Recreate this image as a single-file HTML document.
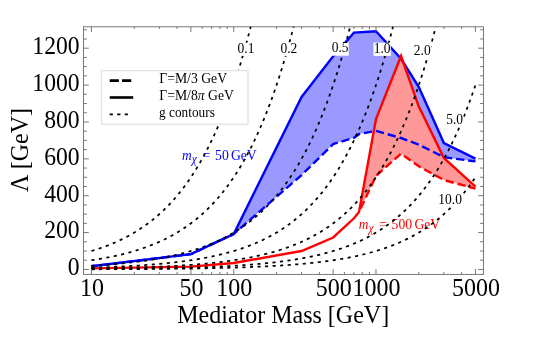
<!DOCTYPE html>
<html><head><meta charset="utf-8"><title>chart</title>
<style>
html,body{margin:0;padding:0;background:#fff;}
body{width:540px;height:337px;overflow:hidden;}
svg{display:block;will-change:transform;font-family:"Liberation Serif",serif;}
text{fill:#000;}
g text{fill:inherit;}
</style></head><body>
<svg width="540" height="337" viewBox="0 0 540 337">
<rect width="540" height="337" fill="#fff"/>
<polygon points="91.45,266.30 190.89,254.20 233.72,234.00 301.60,97.00 333.16,56.30 353.95,32.60 375.99,31.20 401.04,58.80 418.82,87.00 443.87,143.00 475.43,158.60 475.43,161.40 443.87,157.20 418.82,144.60 401.04,138.00 375.99,130.90 359.30,134.00 353.95,137.80 333.16,144.10 301.60,175.10 233.72,234.00 190.89,254.20 91.45,266.30" fill="#9999ff"/>
<polygon points="359.00,212.10 375.99,119.00 401.04,56.00 418.50,105.80 443.87,157.90 475.43,186.60 475.43,188.70 443.87,180.00 418.82,166.30 401.04,153.60 375.99,175.80 359.00,212.10" fill="#ff9999"/>
<polyline points="91.45,266.30 190.89,254.20 233.72,234.00 301.60,175.10 333.16,144.10 353.95,137.80 359.30,134.00 375.99,130.90 401.04,138.00 418.82,144.60 443.87,157.20 475.43,161.40" fill="none" stroke="#0000ff" stroke-width="2.4" stroke-dasharray="8.3 3.9" stroke-dashoffset="2.5" stroke-linejoin="miter"/>
<polyline points="91.45,266.30 190.89,254.20 233.72,234.00 301.60,97.00 333.16,56.30 353.95,32.60 375.99,31.20 401.04,58.80 418.82,87.00 443.87,143.00 475.43,158.60" fill="none" stroke="#0000ff" stroke-width="2.4" stroke-linejoin="miter"/>
<polyline points="359.00,212.10 375.99,175.80 401.04,153.60 418.82,166.30 443.87,180.00 475.43,188.70" fill="none" stroke="#ff0000" stroke-width="2.4" stroke-dasharray="8.3 3.9" stroke-dashoffset="8.3" stroke-linejoin="miter"/>
<polyline points="91.45,268.40 190.89,266.60 233.72,263.00 301.60,251.00 333.16,237.50 353.95,218.30 359.00,212.10 375.99,119.00 401.04,56.00 418.50,105.80 443.87,157.90 475.43,186.60" fill="none" stroke="#ff0000" stroke-width="2.4" stroke-linejoin="miter"/>
<g fill="#0000ff"><text transform="translate(182.10,159.70) scale(1.000,1.050)" font-size="13.4" text-anchor="start" font-style="italic">m</text><text transform="translate(191.70,162.70) scale(1.000,1.100)" font-size="11.5" text-anchor="start" font-style="italic">χ</text><text transform="translate(202.80,159.70) scale(1.000,1.130)" font-size="13.7" text-anchor="start">=</text><text transform="translate(215.10,159.70) scale(1.000,1.130)" font-size="13.7" text-anchor="start">50</text><text transform="translate(230.90,159.70) scale(1.000,1.130)" font-size="13.7" text-anchor="start">GeV</text></g>
<g fill="#ff0000"><text transform="translate(358.70,228.60) scale(1.000,1.050)" font-size="13.4" text-anchor="start" font-style="italic">m</text><text transform="translate(368.40,231.60) scale(1.000,1.100)" font-size="11.5" text-anchor="start" font-style="italic">χ</text><text transform="translate(379.20,228.60) scale(1.000,1.130)" font-size="13.7" text-anchor="start">=</text><text transform="translate(391.60,228.60) scale(1.000,1.130)" font-size="13.7" text-anchor="start">500</text><text transform="translate(414.40,228.60) scale(1.000,1.130)" font-size="13.7" text-anchor="start">GeV</text></g>
<polyline points="91.45,251.02 92.41,250.73 93.37,250.44 94.33,250.14 95.29,249.84 96.25,249.53 97.21,249.22 98.17,248.90 99.13,248.58 100.09,248.25 101.05,247.92 102.01,247.59 102.97,247.24 103.93,246.90 104.89,246.54 105.85,246.18 106.81,245.82 107.77,245.45 108.73,245.07 109.69,244.69 110.65,244.30 111.61,243.91 112.57,243.51 113.53,243.10 114.49,242.69 115.45,242.27 116.41,241.84 117.37,241.41 118.33,240.97 119.29,240.53 120.25,240.07 121.21,239.61 122.17,239.15 123.13,238.67 124.09,238.19 125.05,237.70 126.01,237.20 126.97,236.70 127.93,236.19 128.89,235.66 129.85,235.13 130.81,234.60 131.77,234.05 132.73,233.50 133.69,232.93 134.65,232.36 135.61,231.78 136.57,231.19 137.53,230.59 138.49,229.98 139.45,229.37 140.41,228.74 141.37,228.10 142.33,227.45 143.29,226.79 144.25,226.13 145.21,225.45 146.17,224.76 147.13,224.06 148.09,223.35 149.05,222.63 150.01,221.89 150.97,221.15 151.93,220.39 152.89,219.62 153.85,218.84 154.81,218.05 155.77,217.25 156.73,216.43 157.69,215.60 158.65,214.75 159.61,213.90 160.57,213.03 161.53,212.14 162.49,211.25 163.45,210.34 164.41,209.41 165.37,208.47 166.33,207.51 167.29,206.54 168.25,205.56 169.21,204.56 170.17,203.54 171.13,202.51 172.09,201.46 173.05,200.40 174.01,199.32 174.97,198.22 175.93,197.10 176.89,195.97 177.85,194.82 178.81,193.65 179.77,192.46 180.73,191.26 181.69,190.03 182.65,188.79 183.61,187.53 184.57,186.24 185.53,184.94 186.49,183.62 187.45,182.27 188.41,180.91 189.37,179.52 190.33,178.11 191.29,176.68 192.25,175.23 193.21,173.75 194.17,172.26 195.13,170.73 196.09,169.19 197.05,167.62 198.01,166.02 198.97,164.40 199.93,162.76 200.89,161.09 201.84,159.39 202.80,157.67 203.76,155.92 204.72,154.14 205.68,152.33 206.64,150.50 207.60,148.64 208.56,146.74 209.52,144.82 210.48,142.87 211.44,140.89 212.40,138.88 213.36,136.83 214.32,134.75 215.28,132.65 216.24,130.50 217.20,128.33 218.16,126.12 219.12,123.87 220.08,121.59 221.04,119.28 222.00,116.93 222.96,114.54 223.92,112.11 224.88,109.65 225.84,107.15 226.80,104.61 227.76,102.02 228.72,99.40 229.68,96.74 230.64,94.04 231.60,91.29 232.56,88.50 233.52,85.67 234.48,82.79 235.44,79.86 236.40,76.90 237.36,73.88 238.32,70.82 239.28,67.71 240.24,64.55 241.20,61.34 242.16,58.08 243.12,54.77 244.08,51.41 245.04,48.00 246.00,44.53 246.96,41.01 247.92,37.43 248.88,33.80 249.84,30.11 250.78,26.45" fill="none" stroke="#000" stroke-width="1.75" stroke-dasharray="3.1 4.45"/>
<polyline points="91.45,260.24 92.41,260.10 93.37,259.95 94.33,259.80 95.29,259.65 96.25,259.50 97.21,259.34 98.17,259.18 99.13,259.02 100.09,258.86 101.05,258.69 102.01,258.52 102.97,258.35 103.93,258.18 104.89,258.00 105.85,257.82 106.81,257.64 107.77,257.45 108.73,257.27 109.69,257.08 110.65,256.88 111.61,256.68 112.57,256.48 113.53,256.28 114.49,256.07 115.45,255.87 116.41,255.65 117.37,255.44 118.33,255.22 119.29,254.99 120.25,254.77 121.21,254.54 122.17,254.30 123.13,254.07 124.09,253.83 125.05,253.58 126.01,253.33 126.97,253.08 127.93,252.82 128.89,252.56 129.85,252.30 130.81,252.03 131.77,251.76 132.73,251.48 133.69,251.20 134.65,250.91 135.61,250.62 136.57,250.33 137.53,250.03 138.49,249.72 139.45,249.41 140.41,249.10 141.37,248.78 142.33,248.46 143.29,248.13 144.25,247.79 145.21,247.45 146.17,247.11 147.13,246.76 148.09,246.40 149.05,246.04 150.01,245.68 150.97,245.30 151.93,244.93 152.89,244.54 153.85,244.15 154.81,243.76 155.77,243.35 156.73,242.94 157.69,242.53 158.65,242.11 159.61,241.68 160.57,241.24 161.53,240.80 162.49,240.35 163.45,239.90 164.41,239.43 165.37,238.96 166.33,238.49 167.29,238.00 168.25,237.51 169.21,237.01 170.17,236.50 171.13,235.99 172.09,235.46 173.05,234.93 174.01,234.39 174.97,233.84 175.93,233.28 176.89,232.71 177.85,232.14 178.81,231.55 179.77,230.96 180.73,230.36 181.69,229.75 182.65,229.12 183.61,228.49 184.57,227.85 185.53,227.20 186.49,226.54 187.45,225.87 188.41,225.18 189.37,224.49 190.33,223.79 191.29,223.07 192.25,222.34 193.21,221.61 194.17,220.86 195.13,220.10 196.09,219.32 197.05,218.54 198.01,217.74 198.97,216.93 199.93,216.11 200.89,215.27 201.84,214.43 202.80,213.56 203.76,212.69 204.72,211.80 205.68,210.90 206.64,209.98 207.60,209.05 208.56,208.10 209.52,207.14 210.48,206.17 211.44,205.17 212.40,204.17 213.36,203.15 214.32,202.11 215.28,201.05 216.24,199.98 217.20,198.89 218.16,197.79 219.12,196.67 220.08,195.53 221.04,194.37 222.00,193.19 222.96,192.00 223.92,190.79 224.88,189.55 225.84,188.30 226.80,187.03 227.76,185.74 228.72,184.43 229.68,183.10 230.64,181.75 231.60,180.37 232.56,178.98 233.52,177.56 234.48,176.12 235.44,174.66 236.40,173.18 237.36,171.67 238.32,170.14 239.28,168.58 240.24,167.00 241.20,165.40 242.16,163.77 243.12,162.12 244.08,160.44 245.04,158.73 246.00,156.99 246.96,155.23 247.92,153.45 248.88,151.63 249.84,149.78 250.80,147.91 251.76,146.01 252.72,144.07 253.68,142.11 254.64,140.12 255.60,138.09 256.56,136.03 257.52,133.94 258.48,131.82 259.44,129.67 260.40,127.48 261.36,125.26 262.32,123.00 263.28,120.70 264.24,118.38 265.20,116.01 266.16,113.61 267.12,111.17 268.08,108.69 269.04,106.17 270.00,103.61 270.96,101.02 271.92,98.38 272.88,95.70 273.84,92.98 274.80,90.22 275.76,87.41 276.72,84.56 277.68,81.66 278.64,78.72 279.60,75.74 280.56,72.70 281.52,69.62 282.48,66.49 283.44,63.32 284.40,60.09 285.36,56.81 286.32,53.48 287.28,50.10 288.24,46.66 289.20,43.18 290.16,39.63 291.12,36.03 292.08,32.38 293.04,28.67 293.61,26.45" fill="none" stroke="#000" stroke-width="1.75" stroke-dasharray="3.1 4.45"/>
<polyline points="91.45,265.77 92.41,265.71 93.37,265.66 94.33,265.60 95.29,265.54 96.25,265.47 97.21,265.41 98.17,265.35 99.13,265.28 100.09,265.22 101.05,265.15 102.01,265.09 102.97,265.02 103.93,264.95 104.89,264.88 105.85,264.80 106.81,264.73 107.77,264.66 108.73,264.58 109.69,264.51 110.65,264.43 111.61,264.35 112.57,264.27 113.53,264.19 114.49,264.11 115.45,264.02 116.41,263.94 117.37,263.85 118.33,263.76 119.29,263.67 120.25,263.58 121.21,263.49 122.17,263.40 123.13,263.30 124.09,263.21 125.05,263.11 126.01,263.01 126.97,262.91 127.93,262.81 128.89,262.70 129.85,262.59 130.81,262.49 131.77,262.38 132.73,262.27 133.69,262.15 134.65,262.04 135.61,261.92 136.57,261.81 137.53,261.69 138.49,261.56 139.45,261.44 140.41,261.32 141.37,261.19 142.33,261.06 143.29,260.93 144.25,260.79 145.21,260.66 146.17,260.52 147.13,260.38 148.09,260.24 149.05,260.09 150.01,259.95 150.97,259.80 151.93,259.65 152.89,259.49 153.85,259.34 154.81,259.18 155.77,259.02 156.73,258.85 157.69,258.69 158.65,258.52 159.61,258.35 160.57,258.17 161.53,258.00 162.49,257.82 163.45,257.64 164.41,257.45 165.37,257.26 166.33,257.07 167.29,256.88 168.25,256.68 169.21,256.48 170.17,256.28 171.13,256.07 172.09,255.86 173.05,255.65 174.01,255.43 174.97,255.21 175.93,254.99 176.89,254.76 177.85,254.53 178.81,254.30 179.77,254.06 180.73,253.82 181.69,253.57 182.65,253.33 183.61,253.07 184.57,252.82 185.53,252.56 186.49,252.29 187.45,252.02 188.41,251.75 189.37,251.47 190.33,251.19 191.29,250.90 192.25,250.61 193.21,250.32 194.17,250.02 195.13,249.71 196.09,249.41 197.05,249.09 198.01,248.77 198.97,248.45 199.93,248.12 200.89,247.79 201.84,247.45 202.80,247.10 203.76,246.75 204.72,246.40 205.68,246.03 206.64,245.67 207.60,245.30 208.56,244.92 209.52,244.53 210.48,244.14 211.44,243.75 212.40,243.34 213.36,242.93 214.32,242.52 215.28,242.10 216.24,241.67 217.20,241.23 218.16,240.79 219.12,240.34 220.08,239.89 221.04,239.42 222.00,238.95 222.96,238.48 223.92,237.99 224.88,237.50 225.84,237.00 226.80,236.49 227.76,235.97 228.72,235.45 229.68,234.92 230.64,234.38 231.60,233.83 232.56,233.27 233.52,232.70 234.48,232.13 235.44,231.54 236.40,230.95 237.36,230.34 238.32,229.73 239.28,229.11 240.24,228.48 241.20,227.84 242.16,227.18 243.12,226.52 244.08,225.85 245.04,225.17 246.00,224.47 246.96,223.77 247.92,223.05 248.88,222.33 249.84,221.59 250.80,220.84 251.76,220.08 252.72,219.31 253.68,218.52 254.64,217.72 255.60,216.91 256.56,216.09 257.52,215.25 258.48,214.41 259.44,213.54 260.40,212.67 261.36,211.78 262.32,210.88 263.28,209.96 264.24,209.03 265.20,208.08 266.16,207.12 267.12,206.14 268.08,205.15 269.04,204.14 270.00,203.12 270.96,202.08 271.92,201.03 272.88,199.96 273.84,198.87 274.80,197.76 275.76,196.64 276.72,195.50 277.68,194.34 278.64,193.17 279.60,191.97 280.56,190.76 281.52,189.53 282.48,188.27 283.44,187.00 284.40,185.71 285.36,184.40 286.32,183.07 287.28,181.72 288.24,180.34 289.20,178.95 290.16,177.53 291.12,176.09 292.08,174.63 293.04,173.14 294.00,171.63 294.96,170.10 295.92,168.55 296.88,166.97 297.84,165.36 298.80,163.73 299.76,162.08 300.72,160.40 301.68,158.69 302.64,156.95 303.60,155.19 304.56,153.40 305.52,151.59 306.48,149.74 307.44,147.87 308.40,145.96 309.36,144.03 310.32,142.06 311.28,140.07 312.24,138.04 313.20,135.99 314.16,133.90 315.12,131.77 316.08,129.62 317.04,127.43 318.00,125.20 318.96,122.94 319.92,120.65 320.88,118.32 321.84,115.95 322.80,113.55 323.76,111.11 324.72,108.63 325.68,106.11 326.64,103.55 327.60,100.96 328.56,98.32 329.52,95.64 330.48,92.92 331.44,90.15 332.40,87.34 333.36,84.49 334.32,81.60 335.28,78.65 336.24,75.67 337.20,72.63 338.16,69.55 339.12,66.42 340.08,63.24 341.04,60.01 342.00,56.73 342.96,53.40 343.92,50.02 344.88,46.58 345.84,43.09 346.80,39.55 347.76,35.95 348.72,32.29 349.68,28.58 350.22,26.45" fill="none" stroke="#000" stroke-width="1.75" stroke-dasharray="3.1 4.45"/>
<polyline points="91.45,267.62 92.41,267.59 93.37,267.56 94.33,267.53 95.29,267.50 96.25,267.47 97.21,267.44 98.17,267.40 99.13,267.37 100.09,267.34 101.05,267.31 102.01,267.27 102.97,267.24 103.93,267.20 104.89,267.17 105.85,267.13 106.81,267.10 107.77,267.06 108.73,267.02 109.69,266.98 110.65,266.94 111.61,266.90 112.57,266.86 113.53,266.82 114.49,266.78 115.45,266.74 116.41,266.70 117.37,266.66 118.33,266.61 119.29,266.57 120.25,266.52 121.21,266.48 122.17,266.43 123.13,266.38 124.09,266.33 125.05,266.28 126.01,266.23 126.97,266.18 127.93,266.13 128.89,266.08 129.85,266.03 130.81,265.97 131.77,265.92 132.73,265.86 133.69,265.81 134.65,265.75 135.61,265.69 136.57,265.63 137.53,265.57 138.49,265.51 139.45,265.45 140.41,265.39 141.37,265.32 142.33,265.26 143.29,265.19 144.25,265.13 145.21,265.06 146.17,264.99 147.13,264.92 148.09,264.85 149.05,264.78 150.01,264.70 150.97,264.63 151.93,264.55 152.89,264.48 153.85,264.40 154.81,264.32 155.77,264.24 156.73,264.16 157.69,264.07 158.65,263.99 159.61,263.90 160.57,263.82 161.53,263.73 162.49,263.64 163.45,263.55 164.41,263.45 165.37,263.36 166.33,263.27 167.29,263.17 168.25,263.07 169.21,262.97 170.17,262.87 171.13,262.77 172.09,262.66 173.05,262.55 174.01,262.45 174.97,262.34 175.93,262.22 176.89,262.11 177.85,262.00 178.81,261.88 179.77,261.76 180.73,261.64 181.69,261.52 182.65,261.39 183.61,261.27 184.57,261.14 185.53,261.01 186.49,260.88 187.45,260.74 188.41,260.60 189.37,260.47 190.33,260.33 191.29,260.18 192.25,260.04 193.21,259.89 194.17,259.74 195.13,259.59 196.09,259.43 197.05,259.28 198.01,259.12 198.97,258.95 199.93,258.79 200.89,258.62 201.84,258.45 202.80,258.28 203.76,258.11 204.72,257.93 205.68,257.75 206.64,257.56 207.60,257.38 208.56,257.19 209.52,257.00 210.48,256.80 211.44,256.60 212.40,256.40 213.36,256.20 214.32,255.99 215.28,255.78 216.24,255.56 217.20,255.35 218.16,255.13 219.12,254.90 220.08,254.67 221.04,254.44 222.00,254.21 222.96,253.97 223.92,253.73 224.88,253.48 225.84,253.23 226.80,252.97 227.76,252.72 228.72,252.45 229.68,252.19 230.64,251.92 231.60,251.64 232.56,251.36 233.52,251.08 234.48,250.79 235.44,250.50 236.40,250.20 237.36,249.90 238.32,249.60 239.28,249.28 240.24,248.97 241.20,248.65 242.16,248.32 243.12,247.99 244.08,247.66 245.04,247.31 246.00,246.97 246.96,246.61 247.92,246.26 248.88,245.89 249.84,245.52 250.80,245.15 251.76,244.77 252.72,244.38 253.68,243.99 254.64,243.59 255.60,243.19 256.56,242.77 257.52,242.36 258.48,241.93 259.44,241.50 260.40,241.06 261.36,240.62 262.32,240.17 263.28,239.71 264.24,239.24 265.20,238.77 266.16,238.29 267.12,237.80 268.08,237.31 269.04,236.80 270.00,236.29 270.96,235.77 271.92,235.24 272.88,234.71 273.84,234.16 274.80,233.61 275.76,233.05 276.72,232.48 277.68,231.90 278.64,231.31 279.60,230.72 280.56,230.11 281.52,229.49 282.48,228.87 283.44,228.23 284.40,227.59 285.36,226.93 286.32,226.26 287.28,225.59 288.24,224.90 289.20,224.20 290.16,223.49 291.12,222.77 292.08,222.04 293.04,221.30 294.00,220.55 294.96,219.78 295.92,219.00 296.88,218.21 297.84,217.41 298.80,216.60 299.76,215.77 300.72,214.93 301.68,214.07 302.64,213.21 303.60,212.33 304.56,211.43 305.52,210.52 306.48,209.60 307.44,208.66 308.40,207.71 309.36,206.74 310.32,205.76 311.28,204.76 312.24,203.75 313.20,202.72 314.16,201.68 315.12,200.62 316.08,199.54 317.04,198.44 318.00,197.33 318.96,196.20 319.92,195.06 320.88,193.89 321.84,192.71 322.80,191.51 323.76,190.28 324.72,189.04 325.68,187.79 326.64,186.51 327.60,185.21 328.56,183.89 329.52,182.55 330.48,181.19 331.44,179.81 332.40,178.40 333.36,176.98 334.32,175.53 335.28,174.06 336.24,172.56 337.20,171.05 338.16,169.51 339.12,167.94 340.08,166.35 341.04,164.74 342.00,163.10 342.96,161.43 343.92,159.74 344.88,158.02 345.84,156.28 346.80,154.50 347.76,152.70 348.72,150.88 349.68,149.02 350.64,147.13 351.60,145.22 352.56,143.27 353.52,141.30 354.48,139.29 355.44,137.25 356.40,135.18 357.36,133.08 358.32,130.94 359.28,128.78 360.24,126.57 361.20,124.34 362.16,122.06 363.12,119.76 364.08,117.41 365.04,115.03 366.00,112.61 366.96,110.16 367.92,107.66 368.88,105.13 369.84,102.56 370.80,99.94 371.76,97.29 372.72,94.59 373.68,91.85 374.64,89.07 375.60,86.25 376.56,83.38 377.52,80.47 378.48,77.51 379.44,74.50 380.40,71.45 381.36,68.35 382.32,65.20 383.28,62.00 384.24,58.75 385.20,55.45 386.16,52.10 387.12,48.70 388.08,45.24 389.04,41.73 390.00,38.17 390.96,34.55 391.92,30.87 392.88,27.13 393.05,26.45" fill="none" stroke="#000" stroke-width="1.75" stroke-dasharray="3.1 4.45"/>
<polyline points="91.45,268.54 92.41,268.52 93.37,268.51 94.33,268.49 95.29,268.48 96.25,268.46 97.21,268.45 98.17,268.43 99.13,268.42 100.09,268.40 101.05,268.38 102.01,268.37 102.97,268.35 103.93,268.33 104.89,268.31 105.85,268.30 106.81,268.28 107.77,268.26 108.73,268.24 109.69,268.22 110.65,268.20 111.61,268.18 112.57,268.16 113.53,268.14 114.49,268.12 115.45,268.10 116.41,268.08 117.37,268.06 118.33,268.04 119.29,268.01 120.25,267.99 121.21,267.97 122.17,267.94 123.13,267.92 124.09,267.90 125.05,267.87 126.01,267.85 126.97,267.82 127.93,267.80 128.89,267.77 129.85,267.74 130.81,267.72 131.77,267.69 132.73,267.66 133.69,267.63 134.65,267.61 135.61,267.58 136.57,267.55 137.53,267.52 138.49,267.49 139.45,267.46 140.41,267.42 141.37,267.39 142.33,267.36 143.29,267.33 144.25,267.29 145.21,267.26 146.17,267.22 147.13,267.19 148.09,267.15 149.05,267.12 150.01,267.08 150.97,267.04 151.93,267.01 152.89,266.97 153.85,266.93 154.81,266.89 155.77,266.85 156.73,266.81 157.69,266.77 158.65,266.72 159.61,266.68 160.57,266.64 161.53,266.59 162.49,266.55 163.45,266.50 164.41,266.46 165.37,266.41 166.33,266.36 167.29,266.31 168.25,266.26 169.21,266.21 170.17,266.16 171.13,266.11 172.09,266.06 173.05,266.01 174.01,265.95 174.97,265.90 175.93,265.84 176.89,265.79 177.85,265.73 178.81,265.67 179.77,265.61 180.73,265.55 181.69,265.49 182.65,265.43 183.61,265.36 184.57,265.30 185.53,265.23 186.49,265.17 187.45,265.10 188.41,265.03 189.37,264.96 190.33,264.89 191.29,264.82 192.25,264.75 193.21,264.67 194.17,264.60 195.13,264.52 196.09,264.45 197.05,264.37 198.01,264.29 198.97,264.21 199.93,264.12 200.89,264.04 201.84,263.96 202.80,263.87 203.76,263.78 204.72,263.69 205.68,263.60 206.64,263.51 207.60,263.42 208.56,263.32 209.52,263.23 210.48,263.13 211.44,263.03 212.40,262.93 213.36,262.83 214.32,262.72 215.28,262.62 216.24,262.51 217.20,262.40 218.16,262.29 219.12,262.18 220.08,262.07 221.04,261.95 222.00,261.83 222.96,261.71 223.92,261.59 224.88,261.47 225.84,261.34 226.80,261.22 227.76,261.09 228.72,260.96 229.68,260.82 230.64,260.69 231.60,260.55 232.56,260.41 233.52,260.27 234.48,260.13 235.44,259.98 236.40,259.83 237.36,259.68 238.32,259.53 239.28,259.37 240.24,259.21 241.20,259.05 242.16,258.89 243.12,258.73 244.08,258.56 245.04,258.39 246.00,258.21 246.96,258.04 247.92,257.86 248.88,257.68 249.84,257.49 250.80,257.30 251.76,257.11 252.72,256.92 253.68,256.73 254.64,256.53 255.60,256.32 256.56,256.12 257.52,255.91 258.48,255.70 259.44,255.48 260.40,255.26 261.36,255.04 262.32,254.81 263.28,254.58 264.24,254.35 265.20,254.11 266.16,253.87 267.12,253.63 268.08,253.38 269.04,253.13 270.00,252.88 270.96,252.62 271.92,252.35 272.88,252.08 273.84,251.81 274.80,251.54 275.76,251.26 276.72,250.97 277.68,250.68 278.64,250.39 279.60,250.09 280.56,249.78 281.52,249.48 282.48,249.16 283.44,248.85 284.40,248.52 285.36,248.20 286.32,247.86 287.28,247.52 288.24,247.18 289.20,246.83 290.16,246.48 291.12,246.12 292.08,245.75 293.04,245.38 294.00,245.00 294.96,244.62 295.92,244.23 296.88,243.84 297.84,243.44 298.80,243.03 299.76,242.61 300.72,242.19 301.68,241.77 302.64,241.33 303.60,240.89 304.56,240.45 305.52,239.99 306.48,239.53 307.44,239.06 308.40,238.59 309.36,238.10 310.32,237.61 311.28,237.11 312.24,236.61 313.20,236.09 314.16,235.57 315.12,235.04 316.08,234.50 317.04,233.95 318.00,233.40 318.96,232.83 319.92,232.26 320.88,231.68 321.84,231.08 322.80,230.48 323.76,229.87 324.72,229.25 325.68,228.62 326.64,227.98 327.60,227.33 328.56,226.67 329.52,226.00 330.48,225.32 331.44,224.63 332.40,223.93 333.36,223.22 334.32,222.49 335.28,221.76 336.24,221.01 337.20,220.25 338.16,219.48 339.12,218.70 340.08,217.91 341.04,217.10 342.00,216.28 342.96,215.45 343.92,214.60 344.88,213.74 345.84,212.87 346.80,211.98 347.76,211.08 348.72,210.17 349.68,209.24 350.64,208.30 351.60,207.34 352.56,206.37 353.52,205.38 354.48,204.38 355.44,203.36 356.40,202.32 357.36,201.27 358.32,200.20 359.28,199.12 360.24,198.02 361.20,196.90 362.16,195.76 363.12,194.61 364.08,193.44 365.04,192.25 366.00,191.04 366.96,189.81 367.92,188.56 368.88,187.29 369.84,186.01 370.80,184.70 371.76,183.37 372.72,182.03 373.68,180.66 374.64,179.27 375.60,177.85 376.56,176.42 377.52,174.96 378.48,173.48 379.44,171.98 380.40,170.45 381.36,168.90 382.32,167.33 383.28,165.73 384.24,164.11 385.20,162.46 386.16,160.78 387.12,159.08 388.08,157.35 389.04,155.60 390.00,153.81 390.96,152.00 391.92,150.16 392.88,148.30 393.84,146.40 394.80,144.47 395.76,142.51 396.72,140.53 397.68,138.51 398.64,136.46 399.60,134.37 400.56,132.26 401.52,130.11 402.48,127.93 403.44,125.71 404.40,123.46 405.36,121.18 406.32,118.86 407.28,116.50 408.24,114.10 409.20,111.67 410.16,109.20 411.12,106.69 412.08,104.14 413.04,101.55 414.00,98.92 414.96,96.25 415.92,93.54 416.88,90.79 417.84,87.99 418.80,85.15 419.76,82.26 420.71,79.33 421.67,76.35 422.63,73.33 423.59,70.26 424.55,67.14 425.51,63.97 426.47,60.75 427.43,57.49 428.39,54.17 429.35,50.80 430.31,47.37 431.27,43.89 432.23,40.36 433.19,36.78 434.15,33.13 435.11,29.43 435.88,26.45" fill="none" stroke="#000" stroke-width="1.75" stroke-dasharray="3.1 4.45"/>
<polyline points="91.45,269.09 92.41,269.09 93.37,269.08 94.33,269.07 95.29,269.07 96.25,269.06 97.21,269.06 98.17,269.05 99.13,269.04 100.09,269.04 101.05,269.03 102.01,269.02 102.97,269.02 103.93,269.01 104.89,269.00 105.85,268.99 106.81,268.99 107.77,268.98 108.73,268.97 109.69,268.96 110.65,268.96 111.61,268.95 112.57,268.94 113.53,268.93 114.49,268.92 115.45,268.92 116.41,268.91 117.37,268.90 118.33,268.89 119.29,268.88 120.25,268.87 121.21,268.86 122.17,268.85 123.13,268.84 124.09,268.83 125.05,268.82 126.01,268.81 126.97,268.80 127.93,268.79 128.89,268.78 129.85,268.77 130.81,268.76 131.77,268.75 132.73,268.74 133.69,268.73 134.65,268.72 135.61,268.71 136.57,268.69 137.53,268.68 138.49,268.67 139.45,268.66 140.41,268.65 141.37,268.63 142.33,268.62 143.29,268.61 144.25,268.59 145.21,268.58 146.17,268.57 147.13,268.55 148.09,268.54 149.05,268.52 150.01,268.51 150.97,268.49 151.93,268.48 152.89,268.46 153.85,268.45 154.81,268.43 155.77,268.42 156.73,268.40 157.69,268.38 158.65,268.37 159.61,268.35 160.57,268.33 161.53,268.31 162.49,268.30 163.45,268.28 164.41,268.26 165.37,268.24 166.33,268.22 167.29,268.20 168.25,268.18 169.21,268.16 170.17,268.14 171.13,268.12 172.09,268.10 173.05,268.08 174.01,268.06 174.97,268.04 175.93,268.01 176.89,267.99 177.85,267.97 178.81,267.94 179.77,267.92 180.73,267.90 181.69,267.87 182.65,267.85 183.61,267.82 184.57,267.80 185.53,267.77 186.49,267.74 187.45,267.72 188.41,267.69 189.37,267.66 190.33,267.63 191.29,267.60 192.25,267.58 193.21,267.55 194.17,267.52 195.13,267.49 196.09,267.45 197.05,267.42 198.01,267.39 198.97,267.36 199.93,267.33 200.89,267.29 201.84,267.26 202.80,267.22 203.76,267.19 204.72,267.15 205.68,267.12 206.64,267.08 207.60,267.04 208.56,267.01 209.52,266.97 210.48,266.93 211.44,266.89 212.40,266.85 213.36,266.81 214.32,266.77 215.28,266.72 216.24,266.68 217.20,266.64 218.16,266.59 219.12,266.55 220.08,266.50 221.04,266.46 222.00,266.41 222.96,266.36 223.92,266.31 224.88,266.26 225.84,266.21 226.80,266.16 227.76,266.11 228.72,266.06 229.68,266.01 230.64,265.95 231.60,265.90 232.56,265.84 233.52,265.78 234.48,265.73 235.44,265.67 236.40,265.61 237.36,265.55 238.32,265.49 239.28,265.42 240.24,265.36 241.20,265.30 242.16,265.23 243.12,265.17 244.08,265.10 245.04,265.03 246.00,264.96 246.96,264.89 247.92,264.82 248.88,264.75 249.84,264.67 250.80,264.60 251.76,264.52 252.72,264.44 253.68,264.37 254.64,264.29 255.60,264.21 256.56,264.12 257.52,264.04 258.48,263.95 259.44,263.87 260.40,263.78 261.36,263.69 262.32,263.60 263.28,263.51 264.24,263.42 265.20,263.32 266.16,263.23 267.12,263.13 268.08,263.03 269.04,262.93 270.00,262.83 270.96,262.72 271.92,262.62 272.88,262.51 273.84,262.40 274.80,262.29 275.76,262.18 276.72,262.06 277.68,261.95 278.64,261.83 279.60,261.71 280.56,261.59 281.52,261.47 282.48,261.34 283.44,261.21 284.40,261.09 285.36,260.95 286.32,260.82 287.28,260.69 288.24,260.55 289.20,260.41 290.16,260.27 291.12,260.12 292.08,259.98 293.04,259.83 294.00,259.68 294.96,259.52 295.92,259.37 296.88,259.21 297.84,259.05 298.80,258.89 299.76,258.72 300.72,258.55 301.68,258.38 302.64,258.21 303.60,258.03 304.56,257.85 305.52,257.67 306.48,257.49 307.44,257.30 308.40,257.11 309.36,256.92 310.32,256.72 311.28,256.52 312.24,256.32 313.20,256.11 314.16,255.90 315.12,255.69 316.08,255.48 317.04,255.26 318.00,255.03 318.96,254.81 319.92,254.58 320.88,254.35 321.84,254.11 322.80,253.87 323.76,253.62 324.72,253.38 325.68,253.13 326.64,252.87 327.60,252.61 328.56,252.35 329.52,252.08 330.48,251.81 331.44,251.53 332.40,251.25 333.36,250.96 334.32,250.67 335.28,250.38 336.24,250.08 337.20,249.78 338.16,249.47 339.12,249.16 340.08,248.84 341.04,248.52 342.00,248.19 342.96,247.85 343.92,247.52 344.88,247.17 345.84,246.82 346.80,246.47 347.76,246.11 348.72,245.74 349.68,245.37 350.64,244.99 351.60,244.61 352.56,244.22 353.52,243.83 354.48,243.43 355.44,243.02 356.40,242.60 357.36,242.18 358.32,241.76 359.28,241.32 360.24,240.88 361.20,240.44 362.16,239.98 363.12,239.52 364.08,239.05 365.04,238.57 366.00,238.09 366.96,237.60 367.92,237.10 368.88,236.59 369.84,236.08 370.80,235.56 371.76,235.03 372.72,234.49 373.68,233.94 374.64,233.38 375.60,232.82 376.56,232.24 377.52,231.66 378.48,231.07 379.44,230.47 380.40,229.86 381.36,229.24 382.32,228.61 383.28,227.97 384.24,227.32 385.20,226.66 386.16,225.99 387.12,225.31 388.08,224.62 389.04,223.91 390.00,223.20 390.96,222.48 391.92,221.74 392.88,220.99 393.84,220.24 394.80,219.46 395.76,218.68 396.72,217.89 397.68,217.08 398.64,216.26 399.60,215.43 400.56,214.58 401.52,213.72 402.48,212.85 403.44,211.96 404.40,211.06 405.36,210.15 406.32,209.22 407.28,208.27 408.24,207.32 409.20,206.34 410.16,205.36 411.12,204.35 412.08,203.33 413.04,202.30 414.00,201.25 414.96,200.18 415.92,199.09 416.88,197.99 417.84,196.87 418.80,195.73 419.76,194.58 420.71,193.41 421.67,192.22 422.63,191.01 423.59,189.78 424.55,188.53 425.51,187.26 426.47,185.98 427.43,184.67 428.39,183.34 429.35,181.99 430.31,180.62 431.27,179.23 432.23,177.82 433.19,176.39 434.15,174.93 435.11,173.45 436.07,171.95 437.03,170.42 437.99,168.87 438.95,167.29 439.91,165.69 440.87,164.07 441.83,162.42 442.79,160.74 443.75,159.04 444.71,157.31 445.67,155.55 446.63,153.77 447.59,151.96 448.55,150.12 449.51,148.25 450.47,146.35 451.43,144.43 452.39,142.47 453.35,140.48 454.31,138.46 455.27,136.41 456.23,134.33 457.19,132.21 458.15,130.06 459.11,127.88 460.07,125.66 461.03,123.41 461.99,121.12 462.95,118.80 463.91,116.44 464.87,114.05 465.83,111.61 466.79,109.14 467.75,106.63 468.71,104.08 469.67,101.49 470.63,98.86 471.59,96.19 472.55,93.48 473.51,90.72 474.47,87.92 475.43,85.08" fill="none" stroke="#000" stroke-width="1.75" stroke-dasharray="3.1 4.45"/>
<polyline points="91.45,269.28 92.41,269.27 93.37,269.27 94.33,269.27 95.29,269.26 96.25,269.26 97.21,269.26 98.17,269.25 99.13,269.25 100.09,269.25 101.05,269.24 102.01,269.24 102.97,269.24 103.93,269.23 104.89,269.23 105.85,269.23 106.81,269.22 107.77,269.22 108.73,269.22 109.69,269.21 110.65,269.21 111.61,269.20 112.57,269.20 113.53,269.20 114.49,269.19 115.45,269.19 116.41,269.18 117.37,269.18 118.33,269.18 119.29,269.17 120.25,269.17 121.21,269.16 122.17,269.16 123.13,269.15 124.09,269.15 125.05,269.14 126.01,269.14 126.97,269.13 127.93,269.13 128.89,269.12 129.85,269.12 130.81,269.11 131.77,269.11 132.73,269.10 133.69,269.09 134.65,269.09 135.61,269.08 136.57,269.08 137.53,269.07 138.49,269.07 139.45,269.06 140.41,269.05 141.37,269.05 142.33,269.04 143.29,269.03 144.25,269.03 145.21,269.02 146.17,269.01 147.13,269.01 148.09,269.00 149.05,268.99 150.01,268.98 150.97,268.98 151.93,268.97 152.89,268.96 153.85,268.95 154.81,268.95 155.77,268.94 156.73,268.93 157.69,268.92 158.65,268.91 159.61,268.90 160.57,268.90 161.53,268.89 162.49,268.88 163.45,268.87 164.41,268.86 165.37,268.85 166.33,268.84 167.29,268.83 168.25,268.82 169.21,268.81 170.17,268.80 171.13,268.79 172.09,268.78 173.05,268.77 174.01,268.76 174.97,268.75 175.93,268.74 176.89,268.73 177.85,268.71 178.81,268.70 179.77,268.69 180.73,268.68 181.69,268.67 182.65,268.65 183.61,268.64 184.57,268.63 185.53,268.61 186.49,268.60 187.45,268.59 188.41,268.57 189.37,268.56 190.33,268.55 191.29,268.53 192.25,268.52 193.21,268.50 194.17,268.49 195.13,268.47 196.09,268.46 197.05,268.44 198.01,268.43 198.97,268.41 199.93,268.39 200.89,268.38 201.84,268.36 202.80,268.34 203.76,268.32 204.72,268.31 205.68,268.29 206.64,268.27 207.60,268.25 208.56,268.23 209.52,268.21 210.48,268.19 211.44,268.17 212.40,268.15 213.36,268.13 214.32,268.11 215.28,268.09 216.24,268.07 217.20,268.05 218.16,268.03 219.12,268.00 220.08,267.98 221.04,267.96 222.00,267.93 222.96,267.91 223.92,267.89 224.88,267.86 225.84,267.84 226.80,267.81 227.76,267.79 228.72,267.76 229.68,267.73 230.64,267.71 231.60,267.68 232.56,267.65 233.52,267.62 234.48,267.59 235.44,267.56 236.40,267.53 237.36,267.50 238.32,267.47 239.28,267.44 240.24,267.41 241.20,267.38 242.16,267.35 243.12,267.31 244.08,267.28 245.04,267.25 246.00,267.21 246.96,267.18 247.92,267.14 248.88,267.10 249.84,267.07 250.80,267.03 251.76,266.99 252.72,266.95 253.68,266.91 254.64,266.87 255.60,266.83 256.56,266.79 257.52,266.75 258.48,266.71 259.44,266.66 260.40,266.62 261.36,266.58 262.32,266.53 263.28,266.48 264.24,266.44 265.20,266.39 266.16,266.34 267.12,266.29 268.08,266.24 269.04,266.19 270.00,266.14 270.96,266.09 271.92,266.04 272.88,265.98 273.84,265.93 274.80,265.88 275.76,265.82 276.72,265.76 277.68,265.70 278.64,265.65 279.60,265.59 280.56,265.52 281.52,265.46 282.48,265.40 283.44,265.34 284.40,265.27 285.36,265.21 286.32,265.14 287.28,265.07 288.24,265.00 289.20,264.93 290.16,264.86 291.12,264.79 292.08,264.72 293.04,264.64 294.00,264.57 294.96,264.49 295.92,264.41 296.88,264.34 297.84,264.26 298.80,264.17 299.76,264.09 300.72,264.01 301.68,263.92 302.64,263.83 303.60,263.75 304.56,263.66 305.52,263.57 306.48,263.47 307.44,263.38 308.40,263.29 309.36,263.19 310.32,263.09 311.28,262.99 312.24,262.89 313.20,262.79 314.16,262.68 315.12,262.58 316.08,262.47 317.04,262.36 318.00,262.25 318.96,262.13 319.92,262.02 320.88,261.90 321.84,261.78 322.80,261.66 323.76,261.54 324.72,261.42 325.68,261.29 326.64,261.16 327.60,261.03 328.56,260.90 329.52,260.77 330.48,260.63 331.44,260.49 332.40,260.35 333.36,260.21 334.32,260.07 335.28,259.92 336.24,259.77 337.20,259.62 338.16,259.46 339.12,259.31 340.08,259.15 341.04,258.99 342.00,258.82 342.96,258.66 343.92,258.49 344.88,258.32 345.84,258.14 346.80,257.96 347.76,257.78 348.72,257.60 349.68,257.42 350.64,257.23 351.60,257.04 352.56,256.84 353.52,256.64 354.48,256.44 355.44,256.24 356.40,256.03 357.36,255.82 358.32,255.61 359.28,255.39 360.24,255.17 361.20,254.95 362.16,254.72 363.12,254.49 364.08,254.26 365.04,254.02 366.00,253.78 366.96,253.53 367.92,253.28 368.88,253.03 369.84,252.77 370.80,252.51 371.76,252.24 372.72,251.97 373.68,251.70 374.64,251.42 375.60,251.14 376.56,250.85 377.52,250.56 378.48,250.26 379.44,249.96 380.40,249.66 381.36,249.35 382.32,249.03 383.28,248.71 384.24,248.39 385.20,248.06 386.16,247.72 387.12,247.38 388.08,247.04 389.04,246.69 390.00,246.33 390.96,245.97 391.92,245.60 392.88,245.23 393.84,244.85 394.80,244.46 395.76,244.07 396.72,243.67 397.68,243.27 398.64,242.86 399.60,242.44 400.56,242.02 401.52,241.59 402.48,241.15 403.44,240.71 404.40,240.26 405.36,239.80 406.32,239.34 407.28,238.87 408.24,238.39 409.20,237.90 410.16,237.41 411.12,236.91 412.08,236.40 413.04,235.88 414.00,235.35 414.96,234.82 415.92,234.28 416.88,233.73 417.84,233.17 418.80,232.60 419.76,232.02 420.71,231.43 421.67,230.84 422.63,230.23 423.59,229.62 424.55,229.00 425.51,228.36 426.47,227.72 427.43,227.07 428.39,226.40 429.35,225.73 430.31,225.04 431.27,224.35 432.23,223.64 433.19,222.92 434.15,222.19 435.11,221.45 436.07,220.70 437.03,219.94 437.99,219.16 438.95,218.38 439.91,217.58 440.87,216.76 441.83,215.94 442.79,215.10 443.75,214.25 444.71,213.39 445.67,212.51 446.63,211.62 447.59,210.71 448.55,209.79 449.51,208.86 450.47,207.91 451.43,206.94 452.39,205.96 453.35,204.97 454.31,203.96 455.27,202.93 456.23,201.89 457.19,200.83 458.15,199.76 459.11,198.67 460.07,197.56 461.03,196.43 461.99,195.29 462.95,194.13 463.91,192.95 464.87,191.75 465.83,190.54 466.79,189.30 467.75,188.05 468.71,186.77 469.67,185.48 470.63,184.16 471.59,182.82 472.55,181.47 473.51,180.09 474.47,178.69 475.43,177.27" fill="none" stroke="#000" stroke-width="1.75" stroke-dasharray="3.1 4.45"/>
<rect x="237.4" y="42.7" width="17.3" height="13.2" fill="#fff"/>
<text transform="translate(246.00,52.60) scale(1.000,1.120)" font-size="13.5" text-anchor="middle">0.1</text>
<rect x="280.3" y="42.7" width="17.3" height="13.2" fill="#fff"/>
<text transform="translate(288.90,52.60) scale(1.000,1.120)" font-size="13.5" text-anchor="middle">0.2</text>
<rect x="331.5" y="42.5" width="17.3" height="13.2" fill="#fff"/>
<text transform="translate(340.10,52.40) scale(1.000,1.120)" font-size="13.5" text-anchor="middle">0.5</text>
<rect x="373.5" y="42.7" width="17.3" height="13.2" fill="#fff"/>
<text transform="translate(382.10,52.60) scale(1.000,1.120)" font-size="13.5" text-anchor="middle">1.0</text>
<rect x="413.7" y="45.2" width="17.3" height="13.2" fill="#fff"/>
<text transform="translate(422.30,55.10) scale(1.000,1.120)" font-size="13.5" text-anchor="middle">2.0</text>
<rect x="446.0" y="113.6" width="17.3" height="13.2" fill="#fff"/>
<text transform="translate(454.60,123.50) scale(1.000,1.120)" font-size="13.5" text-anchor="middle">5.0</text>
<rect x="438.1" y="193.6" width="24.0" height="13.2" fill="#fff"/>
<text transform="translate(450.10,203.50) scale(1.000,1.120)" font-size="13.5" text-anchor="middle">10.0</text>
<rect x="83.5" y="26.8" width="400.0" height="247.6" fill="none" stroke="#6a6a6a" stroke-width="0.9"/>
<path d="M83.50 269.46h5.30M483.50 269.46h-5.30M83.50 260.24h3.40M483.50 260.24h-3.40M83.50 251.02h3.40M483.50 251.02h-3.40M83.50 241.80h3.40M483.50 241.80h-3.40M83.50 232.58h5.30M483.50 232.58h-5.30M83.50 223.36h3.40M483.50 223.36h-3.40M83.50 214.15h3.40M483.50 214.15h-3.40M83.50 204.93h3.40M483.50 204.93h-3.40M83.50 195.71h5.30M483.50 195.71h-5.30M83.50 186.49h3.40M483.50 186.49h-3.40M83.50 177.27h3.40M483.50 177.27h-3.40M83.50 168.05h3.40M483.50 168.05h-3.40M83.50 158.83h5.30M483.50 158.83h-5.30M83.50 149.61h3.40M483.50 149.61h-3.40M83.50 140.39h3.40M483.50 140.39h-3.40M83.50 131.17h3.40M483.50 131.17h-3.40M83.50 121.96h5.30M483.50 121.96h-5.30M83.50 112.74h3.40M483.50 112.74h-3.40M83.50 103.52h3.40M483.50 103.52h-3.40M83.50 94.30h3.40M483.50 94.30h-3.40M83.50 85.08h5.30M483.50 85.08h-5.30M83.50 75.86h3.40M483.50 75.86h-3.40M83.50 66.64h3.40M483.50 66.64h-3.40M83.50 57.42h3.40M483.50 57.42h-3.40M83.50 48.20h5.30M483.50 48.20h-5.30M83.50 38.98h3.40M483.50 38.98h-3.40M83.50 29.77h3.40M483.50 29.77h-3.40M91.45 274.30v-5.20M91.45 26.75v5.20M190.89 274.30v-5.20M190.89 26.75v5.20M233.72 274.30v-5.20M233.72 26.75v5.20M333.16 274.30v-5.20M333.16 26.75v5.20M375.99 274.30v-5.20M375.99 26.75v5.20M475.43 274.30v-5.20M475.43 26.75v5.20M134.28 274.30v-2.30M134.28 26.75v2.30M159.33 274.30v-2.30M159.33 26.75v2.30M177.11 274.30v-2.30M177.11 26.75v2.30M202.16 274.30v-2.30M202.16 26.75v2.30M211.68 274.30v-2.30M211.68 26.75v2.30M219.93 274.30v-2.30M219.93 26.75v2.30M227.21 274.30v-2.30M227.21 26.75v2.30M276.55 274.30v-2.30M276.55 26.75v2.30M301.60 274.30v-2.30M301.60 26.75v2.30M319.38 274.30v-2.30M319.38 26.75v2.30M344.43 274.30v-2.30M344.43 26.75v2.30M353.95 274.30v-2.30M353.95 26.75v2.30M362.20 274.30v-2.30M362.20 26.75v2.30M369.48 274.30v-2.30M369.48 26.75v2.30M418.82 274.30v-2.30M418.82 26.75v2.30M443.87 274.30v-2.30M443.87 26.75v2.30M461.65 274.30v-2.30M461.65 26.75v2.30" stroke="#6a6a6a" stroke-width="0.9" fill="none"/>
<text transform="translate(79.60,275.36) scale(0.985,1.090)" font-size="24" text-anchor="end">0</text>
<text transform="translate(79.60,238.48) scale(0.985,1.090)" font-size="24" text-anchor="end">200</text>
<text transform="translate(79.60,201.61) scale(0.985,1.090)" font-size="24" text-anchor="end">400</text>
<text transform="translate(79.60,164.73) scale(0.985,1.090)" font-size="24" text-anchor="end">600</text>
<text transform="translate(79.60,127.86) scale(0.985,1.090)" font-size="24" text-anchor="end">800</text>
<text transform="translate(79.60,90.98) scale(0.985,1.090)" font-size="24" text-anchor="end">1000</text>
<text transform="translate(79.60,54.10) scale(0.985,1.090)" font-size="24" text-anchor="end">1200</text>
<text transform="translate(92.05,296.20) scale(1.000,1.090)" font-size="24" text-anchor="middle">10</text>
<text transform="translate(191.49,296.20) scale(1.000,1.090)" font-size="24" text-anchor="middle">50</text>
<text transform="translate(234.32,296.20) scale(1.000,1.090)" font-size="24" text-anchor="middle">100</text>
<text transform="translate(333.76,296.20) scale(1.000,1.090)" font-size="24" text-anchor="middle">500</text>
<text transform="translate(376.59,296.20) scale(1.000,1.090)" font-size="24" text-anchor="middle">1000</text>
<text transform="translate(476.03,296.20) scale(1.000,1.090)" font-size="24" text-anchor="middle">5000</text>
<text transform="translate(283.20,322.50) scale(1.000,1.090)" font-size="24" text-anchor="middle">Mediator Mass [GeV]</text>
<text transform="translate(27.6,150) rotate(-90) scale(1,1.090)" font-size="24" text-anchor="middle">Λ [GeV]</text>
<rect x="101.5" y="70.6" width="146.5" height="53.6" fill="#fff" stroke="#e3e3e3" stroke-width="1.3"/>
<path d="M109.7 80.6H133.2" stroke="#000" stroke-width="2.6" stroke-dasharray="9.2 3.1" fill="none"/>
<path d="M109.7 97.5H133.2" stroke="#000" stroke-width="2.6" fill="none"/>
<path d="M109.7 114.3H131" stroke="#000" stroke-width="1.7" stroke-dasharray="3.2 4.3" fill="none"/>
<text transform="translate(159.30,83.40) scale(1.000,1.140)" font-size="13.7" text-anchor="start">Γ=M/3 GeV</text>
<text transform="translate(159.30,100.00) scale(1.000,1.140)" font-size="13.7" text-anchor="start">Γ=M/8<tspan font-style="italic">π</tspan> GeV</text>
<text transform="translate(159.10,116.50) scale(1.000,1.140)" font-size="13.3" text-anchor="start">g contours</text>
</svg>
</body></html>
